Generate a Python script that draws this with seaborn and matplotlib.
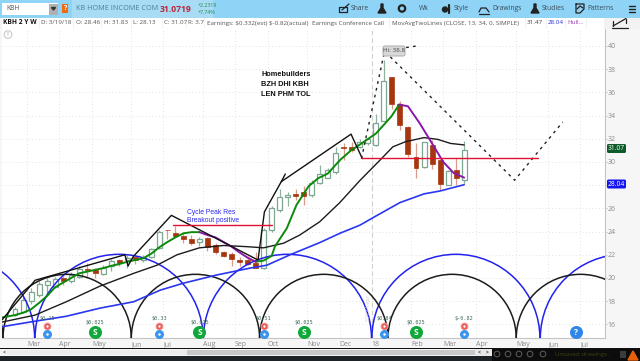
import numpy as np
import pandas as pd
import matplotlib
matplotlib.use('Agg')
import matplotlib.pyplot as plt
import seaborn as sns
from matplotlib.patches import Arc, Rectangle, FancyBboxPatch, Polygon, Circle
from matplotlib.lines import Line2D
from matplotlib.transforms import Affine2D

# weekly candles, index = week number on the chart
opens = [16.8, 17.1, 18.0, 18.5, 19.4, 19.2, 20.0, 19.75, 20.1, 20.8, 20.7, 20.35, 21.0, 21.55, 21.55, 21.8, 21.55, 21.8, 22.55,
         24.15, 23.9, 23.65, 23.35, 23.1, 23.45, 22.85, 22.2, 22.05, 21.55, 21.55, 21.3, 20.85, 24.1, 25.85, 27.0, 27.25, 27.4,
         27.15, 28.15, 28.65, 29.1, 31.25, 31.3, 31.3, 31.6, 31.45, 33.55, 37.3, 35.0, 33.0, 30.4, 29.6, 31.45, 30.15, 28.05,
         29.3, 28.46]
highs = [17.5, 18.4, 19.1, 19.7, 20.0, 20.1, 20.2, 20.5, 21.0, 21.3, 20.9, 21.1, 21.6, 21.6, 22.0, 21.9, 22.0, 22.6, 24.15,
         24.15, 24.5, 23.85, 23.7, 23.55, 23.55, 23.0, 22.35, 22.2, 21.85, 21.9, 22.2, 24.3, 26.2, 27.7, 27.45, 27.7, 27.9,
         28.45, 29.7, 29.45, 31.3, 31.6, 31.75, 32.0, 32.0, 34.1, 38.8, 37.3, 35.3, 33.1, 31.65, 31.75, 31.9, 30.2, 29.3,
         30.3, 31.83]
lows = [16.7, 17.0, 17.8, 18.4, 18.5, 19.1, 19.4, 19.6, 20.0, 20.0, 20.0, 20.3, 20.6, 21.0, 20.9, 21.2, 21.4, 21.7, 22.5,
        23.4, 23.55, 23.0, 22.85, 22.8, 22.3, 22.1, 21.85, 21.0, 21.0, 21.1, 20.85, 20.8, 24.0, 25.7, 26.2, 26.7, 26.3,
        27.0, 28.1, 28.6, 29.0, 30.2, 30.9, 31.2, 31.5, 31.4, 33.5, 34.6, 32.8, 30.4, 28.6, 29.5, 29.4, 27.55, 28.0,
        28.0, 28.13]
closes = [17.3, 18.1, 18.75, 19.5, 19.7, 19.9, 19.75, 20.25, 20.75, 20.7, 20.4, 20.9, 21.5, 21.3, 21.7, 21.55, 21.8, 22.5, 24.0,
          24.1, 23.65, 23.35, 23.05, 23.4, 22.65, 22.2, 21.9, 21.6, 21.4, 21.2, 20.9, 24.15, 26.0, 26.95, 27.15, 27.05, 27.1,
          28.15, 28.96, 29.3, 30.8, 31.2, 31.0, 31.75, 32.0, 33.4, 37.0, 35.0, 33.2, 30.7, 29.45, 31.7, 29.8, 28.1, 29.25,
          28.65, 31.07]

# moving averages and studies (week, price)
green_wk = [-1.6, 0, 1, 2, 3, 4, 5, 6, 7, 8, 9, 10, 11, 12, 13, 14, 15, 16, 17, 18, 19, 20, 21, 22, 23]
green_px = [16.6, 16.8, 17.0, 17.3, 17.85, 18.45, 19.2, 19.6, 20.0, 20.4, 20.55, 20.7, 20.85, 21.05, 21.2, 21.4, 21.55, 21.7,
            22.1, 22.65, 23.1, 23.5, 23.85, 23.95, 23.95]
purple1_wk = [23, 24, 25, 26, 27, 28, 29, 30]
purple1_px = [23.95, 23.7, 23.5, 23.1, 22.7, 22.2, 21.75, 21.4]
green2_wk = [30, 31, 32, 32.4, 33.9, 35.1, 36.6, 37.8, 39, 40.5, 41.9, 43, 45, 46.9, 47.9]
green2_px = [21.4, 21.5, 21.9, 22.7, 24.3, 26.3, 27.9, 28.6, 29.0, 30.15, 31.0, 31.5, 32.45, 33.9, 34.95]
purple2_wk = [47.9, 49, 50.5, 52, 53.4, 54.7, 56]
purple2_px = [34.95, 34.8, 33.3, 31.6, 30.0, 29.05, 28.65]
ma_black_wk = [-1.6, 2.5, 6.4, 10.6, 14.8, 17.7, 20.2, 23, 26, 28.9, 31, 33.5, 35.5, 38, 40.5, 43, 45.5, 47.1, 48.7, 51, 52.7,
               54.3, 56]
ma_black_px = [16.2, 16.8, 17.95, 19.3, 20.4, 21.1, 22.0, 22.6, 22.8, 22.7, 22.6, 23.0, 23.7, 24.85, 26.5, 28.4, 30.15, 31.3,
               31.75, 32.1, 31.95, 31.6, 31.47]
ma_blue_wk = [-1.6, 2.3, 6.4, 10.6, 14.8, 18.1, 21, 25.1, 29.3, 31.4, 34.3, 38, 40.5, 43, 44.9, 48, 51, 53, 56]
ma_blue_px = [15.8, 16.25, 16.7, 17.4, 17.95, 18.95, 19.55, 20.25, 20.85, 21.1, 22.0, 23.05, 23.85, 24.55, 25.3, 26.5, 27.25,
              27.5, 28.04]

# hand drawn lines
zig1_wk = [-1.6, 2.5, 13.7, 14.1]
zig1_px = [16.4, 19.8, 22.0, 21.05]
zig2_wk = [14.1, 14.75, 19.5, 30.3, 31.1, 33.2, 33.7]
zig2_px = [21.05, 21.85, 25.4, 21.55, 25.7, 28.3, 28.96]
zig3_wk = [33.2, 41.9, 43.3]
zig3_px = [28.3, 32.4, 30.3]
dash1_wk = [43.2, 46.1, 50.1]
dash1_px = [30.3, 39.6, 40.0]
dash2_wk = [46.8, 62.3, 68.3]
dash2_px = [39.06, 28.43, 33.45]

res_wk = [19.7, 32.1]
res_px = [24.55, 24.55]
sup_wk = [43.2, 65.2]
sup_px = [30.3, 30.3]

# cycle arc feet, in weeks
blue_feet = [-18.5, 2.5, 23.5, 44.5, 65.5]
black_feet = [-17.5, -1.5, 14.5, 30.5, 46.5, 62.5]

month_wk = [1.5, 5.5, 9.6, 14.5, 18.5, 23.4, 27.4, 31.5, 36.4, 40.5, 44.5, 49.4, 53.4, 57.5, 62.5, 66.5, 70.5]
month_lb = ['Mar', 'Apr', 'May', 'Jun', 'Jul', 'Aug', 'Sep', 'Oct', 'Nov', 'Dec', '18', 'Feb', 'Mar', 'Apr', 'May', 'Jun', 'Jul']
price_ticks = [16, 18, 20, 22, 24, 26, 28, 30, 32, 34, 36, 38, 40]
price_lb = ['16', '18', '20', '22', '24', '26', '', '30', '32', '34', '36', '38', '40']

earn_wk = [4, 18, 31, 46, 56]
earn_lb = ['$0.15', '$0.33', '$0.51', '$0.84', '$-0.82']
div_wk = [10, 23, 36, 50]
div_lb = ['$0.025', '$0.025', '$0.025', '$0.025']

sns.set_style('white')
plt.rcParams['font.family'] = ['Open Sans', 'DejaVu Sans']

W, H = 640, 361
fig = plt.figure(figsize=(6.4, 3.61), dpi=100, facecolor='#f6f6f6')
ax = fig.add_axes([2 / W, (H - 338.3) / H, 603 / W, 310.3 / H])
ax.set_xlim((2 - 15) / 8.02, (605 - 15) / 8.02)
ax.set_ylim(14.8, 41.55)

# grid
ax.set_yticks(price_ticks)
ax.set_yticklabels(price_lb)
ax.set_xticks(month_wk)
ax.set_xticklabels(month_lb, ha='left')
ax.yaxis.tick_right()
ax.tick_params(axis='both', length=1.5, width=0.6, color='#bbbbbb', labelcolor='#8a8a8a', labelsize=5.0, pad=0.5)
ax.grid(True, color='#d9d9d9', lw=0.6, ls=(0, (1, 3)))
for s in ['top', 'left']:
    ax.spines[s].set_visible(False)
for s in ['right', 'bottom']:
    ax.spines[s].set_color('#c4c4c4')
    ax.spines[s].set_linewidth(0.8)
ax.axvline(44.5, color='#cfcfcf', lw=0.8, ls=(0, (4, 3)))

# candles
df = pd.DataFrame({'o': opens, 'h': highs, 'l': lows, 'c': closes})
df['wk'] = df.index
up = df[df.c >= df.o]
dn = df[df.c < df.o]
ax.vlines(up.wk, up.l, up.h, color='#8fb29e', lw=0.9, zorder=2)
ax.vlines(dn.wk, dn.l, dn.h, color='#dc9b8a', lw=0.9, zorder=2)
ax.bar(up.wk, up.c - up.o, bottom=up.o, width=0.62, color='white', edgecolor='#7ea791', lw=0.9, zorder=3)
ax.bar(dn.wk, dn.o - dn.c, bottom=dn.c, width=0.62, color='#a6360f', edgecolor='#a6360f', lw=0.5, zorder=3)

# cycle arcs
for f in blue_feet:
    ax.add_patch(Arc((f + 10.475, 14.8), 20.95, 14.48, theta1=0, theta2=180, color='#2222ee', lw=1.1, zorder=4))
for f in black_feet:
    ax.add_patch(Arc((f + 8, 14.8), 16.0, 11.03, theta1=0, theta2=180, color='#1c1c1c', lw=1.1, zorder=4))


def draw(xs, ys, color, lw, **kw):
    sns.lineplot(x=xs, y=ys, color=color, lw=lw, ax=ax, sort=False, estimator=None, zorder=5, **kw)


draw(ma_blue_wk, ma_blue_px, '#2a36f0', 1.2)
draw(ma_black_wk, ma_black_px, '#1c1c1c', 1.0)
draw(green_wk, green_px, '#0b8a0b', 1.4)
draw(green2_wk, green2_px, '#0b8a0b', 1.4)
draw(purple1_wk, purple1_px, '#8a18a8', 1.4)
draw(purple2_wk, purple2_px, '#8a18a8', 1.4)
draw(zig1_wk, zig1_px, '#111111', 1.0)
draw(zig2_wk, zig2_px, '#111111', 1.0)
draw(zig3_wk, zig3_px, '#111111', 1.0)
draw(dash1_wk, dash1_px, '#222222', 1.0, linestyle=(0, (2, 3)))
draw(dash2_wk, dash2_px, '#222222', 1.0, linestyle=(0, (2, 3)))
draw(res_wk, res_px, '#e01030', 1.0)
draw(sup_wk, sup_px, '#e01030', 1.0)

# earnings and dividend markers
ax.scatter(earn_wk, [15.9] * len(earn_wk), s=26, color='#f06a6a', edgecolor='#f7a0a0', lw=0.5, zorder=6)
ax.scatter(earn_wk, [15.9] * len(earn_wk), s=6, color='white', edgecolor='#e04040', lw=0.6, zorder=7)
ax.scatter(earn_wk, [15.2] * len(earn_wk), s=30, color='#3a93ee', zorder=6)
ax.scatter(earn_wk, [15.2] * len(earn_wk), s=6, color='white', edgecolor='#3a93ee', lw=0.6, zorder=7)
ax.scatter(div_wk, [15.35] * len(div_wk), s=70, color='#10a838', zorder=6)
ax.scatter([70], [15.35], s=70, color='#2d86e8', zorder=6)
for w in div_wk:
    ax.text(w, 15.33, 'S', color='white', fontsize=6, fontweight='bold', ha='center', va='center', zorder=8)
ax.text(70, 15.33, '?', color='white', fontsize=6, fontweight='bold', ha='center', va='center', zorder=8)
for w, s in zip(earn_wk, earn_lb):
    ax.text(w, 16.5, s.replace('$', r'\$'), color='#3d6b55', fontsize=3.7, family='DejaVu Sans Mono', ha='center', va='center', zorder=8)
for w, s in zip(div_wk, div_lb):
    ax.text(w, 16.15, s.replace('$', r'\$'), color='#3d6b55', fontsize=3.7, family='DejaVu Sans Mono', ha='center', va='center', zorder=8)

# page furniture, in pixels
tr = Affine2D().scale(1, -1).translate(0, H)


def box(x0, y0, x1, y1, color, z=1):
    fig.add_artist(Rectangle((x0, y0), x1 - x0, y1 - y0, transform=tr, facecolor=color, edgecolor='none', zorder=z))


def label(x, y, s, color='#444444', size=5.0, weight='normal', ha='left', family=None, z=9, **kw):
    fam = family if family else ['Open Sans', 'DejaVu Sans']
    fig.text(x, y, s.replace('$', r'\$'), transform=tr, color=color, fontsize=size, fontweight=weight, ha=ha, va='center',
             family=fam, zorder=z, **kw)


def tick(pts, color='#222222', lw=0.9):
    xs, ys = zip(*pts)
    fig.add_artist(Line2D(xs, ys, transform=tr, color=color, lw=lw, zorder=9))


# top bars
box(0, 0, W, 17.5, '#8fd4f7')
box(72, 0, 213, 17.5, '#a8dcf5', 1.5)
box(0, 17.5, W, 29, '#f2f2f2')
box(2, 3, 58, 15, 'white', 2)
box(49, 3.5, 58, 14.5, '#b0b0b0', 3)
fig.add_artist(Polygon([(51.5, 7.5), (55.5, 7.5), (53.5, 10)], transform=tr, color='#333333', zorder=4))
box(62, 4, 68, 13, '#f06a10', 3)
label(65, 8.5, '?', 'white', 5, 'bold', 'center')
label(6, 9, 'KBH', '#555555', 4.9)
label(76, 9, 'KB HOME INCOME COM', '#4a7f9e', 5.2)
label(160, 9, '31.0719', '#b8283c', 6.2, 'bold')
label(198, 5.5, '+2.2319', '#1e8a50', 3.8)
label(198, 12.5, '+7.74%', '#1e8a50', 3.8)

for x, s in zip([351, 419, 454, 492, 542, 587], ['Share', 'Wk', 'Style', 'Drawings', 'Studies', 'Patterns']):
    label(x, 9, s, '#3a4a55', 4.9)
# toolbar glyphs
tick([(339, 12), (339, 6.5), (347, 6.5), (347, 12), (339, 12)])
tick([(342, 10), (349, 4)])
fig.add_artist(Polygon([(378, 13), (386, 13), (383, 8), (383, 4), (381, 4), (381, 8)], transform=tr, color='#222222', zorder=9))
fig.add_artist(Circle((402, 8.5), 3.2, transform=tr, facecolor='none', edgecolor='#222222', lw=1.6, zorder=9))
fig.add_artist(Circle((445, 9.5), 2.5, transform=tr, color='#222222', zorder=9))
tick([(449, 5), (449, 13)], lw=1.6)
tick([(479, 12), (481, 8), (486, 8), (489, 12)])
tick([(479, 14), (489, 14)])
fig.add_artist(Polygon([(531, 13), (539, 13), (536, 8), (536, 4), (534, 4), (534, 8)], transform=tr, color='#222222', zorder=9))
tick([(576, 4), (584, 4), (584, 9), (580, 13), (576, 13), (576, 4)])
tick([(577, 9), (580, 6), (583, 8)])
for y in [6, 9, 12]:
    tick([(629, y), (635, y)], lw=1.0)

# legend row
for x0, x1 in [(2, 39), (40, 73), (74, 101), (102, 131), (132, 162), (163, 186), (187, 204), (205, 311), (311, 389),
               (390, 525), (526, 546), (547, 565), (566, 586), (587, 604)]:
    box(x0, 18, x1, 28.5, 'white', 1.2)
label(3, 23, 'KBH 2 Y W', '#111111', 4.8, 'bold')
for x, s, c in [(41, 'D: 3/19/18', '#555555'), (76, 'O: 28.46', '#555555'), (104, 'H: 31.83', '#555555'),
                (133, 'L: 28.13', '#555555'), (164, 'C: 31.07', '#555555'), (188, 'R: 3.7', '#555555'),
                (207, 'Earnings: $0.332(est) $-0.82(actual)', '#555555'), (312, 'Earnings Conference Call', '#555555'),
                (392, 'MovAvgTwoLines (CLOSE, 13, 34, 0, SIMPLE)', '#555555'), (527, '31.47', '#444444'),
                (548, '28.04', '#3030e0'), (567, 'Hull...', '#a040c0')]:
    label(x, 23, s, c, 4.5)
tick([(612, 28), (628, 28)], '#222222', 0.9)
tick([(613, 26), (626, 18.5)], '#222222', 0.9)
tick([(613, 26), (613, 21)], '#222222', 0.9)
tick([(626, 18.5), (626, 23)], '#222222', 0.9)
fig.add_artist(Circle((8, 34.5), 3.8, transform=tr, facecolor='white', edgecolor='#c8c8c8', lw=0.8, zorder=9))
label(8, 34.5, '!', '#c0c0c0', 4.5, 'bold', 'center')

# notes on the chart
for y, s in zip([75, 85, 94], ['Homebuilders', 'BZH DHI KBH', 'LEN PHM TOL']):
    label(261, y, s, '#111111', 5.3, 'bold', family='Liberation Sans')
label(187, 212, 'Cycle Peak Res', '#2a2af0', 4.9, family='Liberation Sans')
label(187, 220, 'Breakout positive', '#2a2af0', 4.9, family='Liberation Sans')
fig.add_artist(FancyBboxPatch((383, 46), 22, 10, boxstyle='round,pad=0,rounding_size=2', transform=tr,
                              facecolor='#d8d8d8', edgecolor='#b4b4b4', lw=0.8, zorder=9))
label(394, 51, 'Hi: 38.8', '#444444', 4.5, ha='center', z=10)
label(368, 308, '2017 Year', '#d4d4d4', 4.2, ha='center', rotation=90)

# price tags
fig.add_artist(FancyBboxPatch((607, 144), 19, 9, boxstyle='round,pad=0,rounding_size=1.5', transform=tr,
                              facecolor='#0d5a2a', edgecolor='none', zorder=9))
label(616.5, 148.5, '31.07', 'white', 4.8, ha='center', z=10)
fig.add_artist(FancyBboxPatch((607, 179.5), 19, 9, boxstyle='round,pad=0,rounding_size=1.5', transform=tr,
                              facecolor='#1414f0', edgecolor='none', zorder=9))
label(616.5, 184, '28.04', 'white', 4.8, ha='center', z=10)

# bottom bars
box(0, 347.5, W, 349, '#111111', 5)
box(0, 349, W, 355.5, '#f4f4f4', 5)
box(0, 355.5, W, H, '#1c2226', 5)
box(7, 350, 187, 355, '#ececec', 6)
box(187, 350, 475, 355, '#c8c8c8', 6)
box(475, 349, 492, 355.5, '#e8e8e8', 6)
box(492, 349, W, H, '#0c0c0c', 6)
label(3, 352.5, '<', '#333333', 3.5, 'bold', z=9)
label(478, 352.5, '<', '#333333', 3.5, 'bold', z=9)
label(486, 352.5, '>', '#333333', 3.5, 'bold', z=9)
for x in [497, 508, 519, 530, 543]:
    fig.add_artist(Circle((x, 354), 2.8, transform=tr, facecolor='none', edgecolor='#555555', lw=0.8, zorder=9))
label(555, 354.5, 'Unsaved drawings .', '#3f3f1c', 4.4)
box(620, 351, 626, 358, '#3c3c3c', 9)
fig.add_artist(Polygon([(628, 360), (638, 360), (633, 351)], transform=tr, color='#e8600c', zorder=9))

fig.savefig('out.png', dpi=100, facecolor=fig.get_facecolor())
